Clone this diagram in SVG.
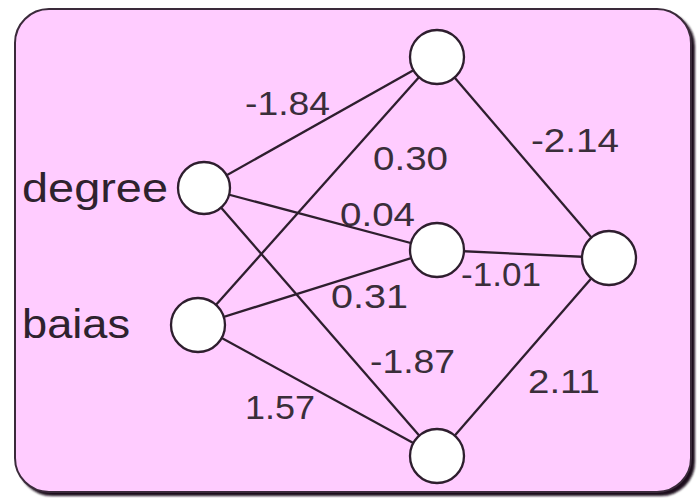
<svg xmlns="http://www.w3.org/2000/svg" width="698" height="499" viewBox="0 0 698 499">
<style>
.node{fill:#ffffff;stroke:#2e1e2e;stroke-width:2.3}
.edge{stroke:#2e1e2e;stroke-width:2.3;fill:none}
.lbl{font-family:"Liberation Sans",Arial,sans-serif;font-size:34px;fill:#3a2e3a}
.name{font-family:"Liberation Sans",Arial,sans-serif;font-size:40px;fill:#2e222e}
</style>
<defs>
<filter id="sh" x="-5%" y="-5%" width="110%" height="110%"><feGaussianBlur stdDeviation="1.2"/></filter>
</defs>
<g id="frame">
<rect x="18" y="12" width="677" height="484" rx="34" fill="#1a0a1a" filter="url(#sh)"/>
<rect x="15" y="9" width="676" height="483" rx="34" fill="#ffccff" stroke="#3a2a3a" stroke-width="2"/>
</g>
<g id="labels">
<text class="lbl" x="245" y="115" textLength="85" lengthAdjust="spacingAndGlyphs">-1.84</text>
<text class="lbl" x="373" y="170" textLength="75" lengthAdjust="spacingAndGlyphs">0.30</text>
<text class="lbl" x="340" y="226" textLength="75" lengthAdjust="spacingAndGlyphs">0.04</text>
<text class="lbl" x="531" y="152" textLength="88" lengthAdjust="spacingAndGlyphs">-2.14</text>
<text class="lbl" x="461" y="286" textLength="80" lengthAdjust="spacingAndGlyphs">-1.01</text>
<text class="lbl" x="331" y="308" textLength="77" lengthAdjust="spacingAndGlyphs">0.31</text>
<text class="lbl" x="370" y="373" textLength="85" lengthAdjust="spacingAndGlyphs">-1.87</text>
<text class="lbl" x="528" y="393" textLength="72" lengthAdjust="spacingAndGlyphs">2.11</text>
<text class="lbl" x="245" y="419" textLength="70" lengthAdjust="spacingAndGlyphs">1.57</text>
</g>
<g id="connectors">
<line class="edge" x1="204" y1="188" x2="437" y2="57"/>
<line class="edge" x1="204" y1="188" x2="437" y2="250"/>
<line class="edge" x1="204" y1="188" x2="437" y2="456"/>
<line class="edge" x1="198" y1="325" x2="437" y2="57"/>
<line class="edge" x1="198" y1="325" x2="437" y2="250"/>
<line class="edge" x1="198" y1="325" x2="437" y2="456"/>
<line class="edge" x1="437" y1="57" x2="609" y2="258"/>
<line class="edge" x1="437" y1="250" x2="609" y2="258"/>
<line class="edge" x1="437" y1="456" x2="609" y2="258"/>
</g>
<g id="in-degree">
<text class="name" x="22" y="202" textLength="146" lengthAdjust="spacingAndGlyphs">degree</text>
<circle class="node" cx="204" cy="188" r="26"/>
</g>
<g id="in-baias">
<text class="name" x="22" y="338" textLength="108" lengthAdjust="spacingAndGlyphs">baias</text>
<circle class="node" cx="198" cy="325" r="27"/>
</g>
<g id="h-top"><circle class="node" cx="437" cy="57" r="27"/></g>
<g id="h-mid"><circle class="node" cx="437" cy="250" r="27"/></g>
<g id="h-bot"><circle class="node" cx="437" cy="456" r="27"/></g>
<g id="out"><circle class="node" cx="609" cy="258" r="27"/></g>
</svg>
